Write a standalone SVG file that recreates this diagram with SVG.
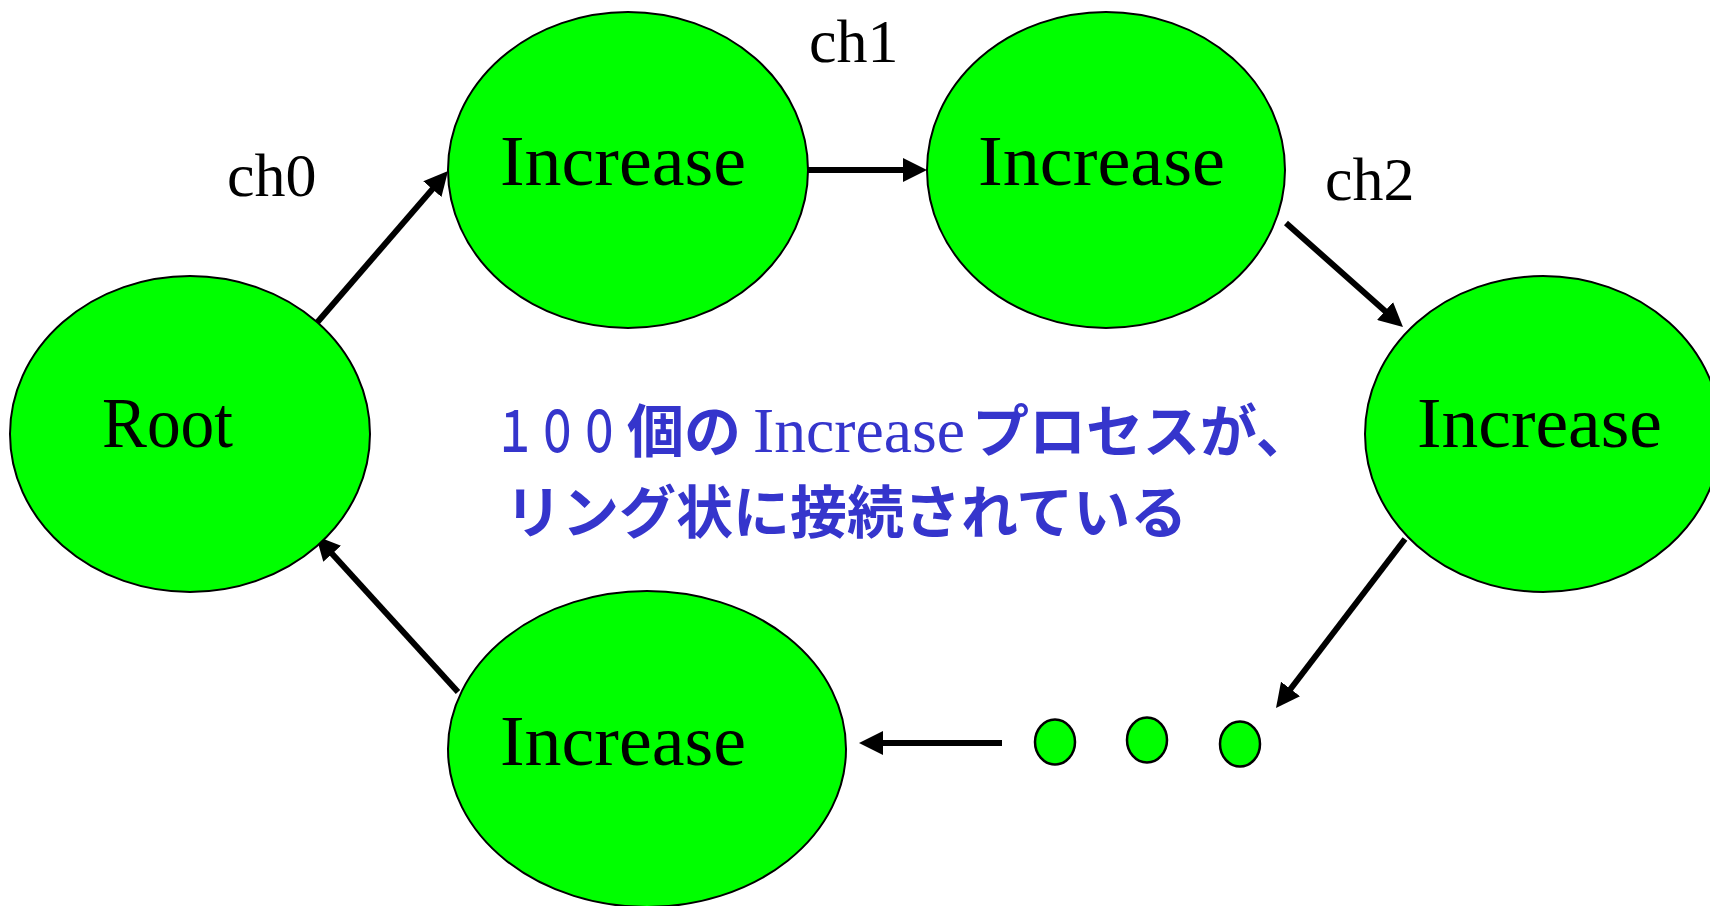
<svg xmlns="http://www.w3.org/2000/svg" width="1710" height="906" viewBox="0 0 1710 906">
<style>
.node{fill:#00ff00;stroke:#000;stroke-width:2}
.dot{fill:#00ff00;stroke:#000;stroke-width:2.5}
.lbl{font-family:"Liberation Serif","Times New Roman",serif;font-size:72px;fill:#000}
.ch{font-family:"Liberation Serif","Times New Roman",serif;font-size:62px;fill:#000}
.edge{stroke:#000;stroke-width:6;fill:none;marker-end:url(#ah)}
.note{font-family:"Noto Sans CJK JP","Noto Sans",sans-serif;font-size:57px;font-weight:700;fill:#3535cc}
.noteSerif{font-family:"Liberation Serif","Times New Roman",serif;font-weight:400;font-size:64px}
.digits{font-weight:500}
</style>
<defs>
<marker id="ah" markerUnits="userSpaceOnUse" markerWidth="24" markerHeight="24" refX="12" refY="12" orient="auto">
<path d="M0,0 L24,12 L0,24 z" fill="#000"/>
</marker>
</defs>
<rect width="1710" height="906" fill="#fff"/>
<g id="connectors">
<path class="edge" d="M315,325 L440.2,180.1"/>
<path class="edge" d="M808,170 L915,170"/>
<path class="edge" d="M1286,223 L1394,319"/>
<path class="edge" d="M1405,539 L1283.3,698.5"/>
<path class="edge" d="M1002,743 L871,743"/>
<path class="edge" d="M458,692 L324.1,544.9"/>
</g>
<g id="root">
<ellipse class="node" cx="190" cy="434" rx="180" ry="158"/>
<text class="lbl" x="102" y="447" textLength="131" lengthAdjust="spacingAndGlyphs">Root</text>
</g>
<g id="inc1">
<ellipse class="node" cx="628" cy="170" rx="180" ry="158"/>
<text class="lbl" x="500" y="185" textLength="246" lengthAdjust="spacingAndGlyphs">Increase</text>
</g>
<g id="inc2">
<ellipse class="node" cx="1106" cy="170" rx="179" ry="158"/>
<text class="lbl" x="978" y="185" textLength="247" lengthAdjust="spacingAndGlyphs">Increase</text>
</g>
<g id="inc3">
<ellipse class="node" cx="1543" cy="434" rx="178" ry="158"/>
<text class="lbl" x="1417" y="447" textLength="245" lengthAdjust="spacingAndGlyphs">Increase</text>
</g>
<g id="inc4">
<ellipse class="node" cx="647" cy="749" rx="199" ry="158"/>
<text class="lbl" x="500" y="765" textLength="246" lengthAdjust="spacingAndGlyphs">Increase</text>
</g>
<g id="dots">
<ellipse class="dot" cx="1055" cy="742" rx="20" ry="22.5"/>
<ellipse class="dot" cx="1147" cy="740" rx="20" ry="22.5"/>
<ellipse class="dot" cx="1240" cy="744" rx="20" ry="22.5"/>
</g>
<g id="labels">
<text class="ch" x="227" y="196">ch0</text>
<text class="ch" x="809" y="62">ch1</text>
<text class="ch" x="1325" y="200">ch2</text>
</g>
<g id="note">
<text class="note digits" transform="translate(494,452) scale(0.74,1)">１００</text>
<text class="note" y="452"><tspan x="627">個の</tspan><tspan class="noteSerif" x="753" textLength="212" lengthAdjust="spacingAndGlyphs">Increase</tspan><tspan x="972">プロセスが、</tspan></text>
<text class="note" x="505" y="533">リング状に接続されている</text>
</g>
</svg>
